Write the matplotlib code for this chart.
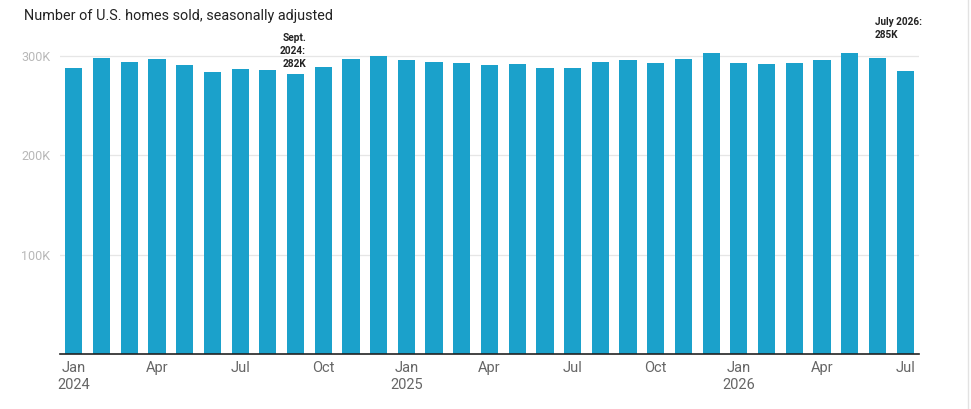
import matplotlib.pyplot as plt
from matplotlib.lines import Line2D

plt.rcParams['font.family'] = ['Roboto', 'DejaVu Sans']

# monthly home sales, Jan 2024 .. Jul 2026 (thousands)
months = ['Jan', 'Feb', 'Mar', 'Apr', 'May', 'Jun', 'Jul', 'Aug', 'Sep', 'Oct', 'Nov', 'Dec'] * 2 + \
         ['Jan', 'Feb', 'Mar', 'Apr', 'May', 'Jun', 'Jul']
years = [2024] * 12 + [2025] * 12 + [2026] * 7
sales_k = [288, 298, 294, 297, 291, 284, 287, 286, 282, 289, 297, 300,
           296, 294, 293, 291, 292, 288, 288, 294, 296, 293, 297, 303,
           293, 292, 293, 296, 303, 298, 285]

tick_months = ['Jan', 'Apr', 'Jul', 'Oct']
y_ticks = [100, 200, 300]
y_labels = ['100K', '200K', '300K']

BAR_COLOR = '#1ba1cb'


def main():
    fig = plt.figure(figsize=(9.71, 4.09), dpi=100)
    ax = fig.add_axes([60 / 971, 55 / 409, 859 / 971, 308 / 409])

    xs = list(range(len(sales_k)))
    ax.bar(xs, sales_k, width=0.62, color=BAR_COLOR, zorder=2)

    ax.set_xlim(-0.5, len(sales_k) - 0.5)
    ax.set_ylim(0, 310)

    # y axis: light grid, labels on the left
    ax.set_yticks(y_ticks)
    ax.set_yticklabels(y_labels)
    ax.tick_params(axis='y', length=0, pad=7, labelsize=9, labelcolor='#b8b8b8')
    ax.grid(axis='y', color='#e6e6e6', linewidth=0.9, zorder=0)

    # x axis: quarter labels, year under each Jan
    ticks, labels = [], []
    for i, (m, y) in enumerate(zip(months, years)):
        if m in tick_months:
            ticks.append(i)
            labels.append(f'{m}\n{y}' if m == 'Jan' else m)
    ax.set_xticks(ticks)
    ax.set_xticklabels(labels, linespacing=1.3)
    ax.tick_params(axis='x', length=0, pad=5, labelsize=10.5, labelcolor='#666666')

    for side in ['top', 'right', 'left']:
        ax.spines[side].set_visible(False)
    ax.spines['bottom'].set_color('#222222')
    ax.spines['bottom'].set_linewidth(1.2)
    ax.spines['bottom'].set_zorder(3)

    fig.text(24 / 971, 1 - 16 / 409, 'Number of U.S. homes sold, seasonally adjusted',
             fontsize=10.4, color='#222222', va='center', ha='left')

    # annotations
    sep = 8
    fig.text(306 / 971, 1 - 33 / 409, f'Sept.\n{years[sep]}:\n{sales_k[sep]}K',
             ha='right', va='top', fontsize=7.3, fontweight='bold',
             color='#222222', linespacing=1.35)
    last = len(sales_k) - 1
    fig.text(875 / 971, 1 - 17 / 409, f'July {years[last]}:\n{sales_k[last]}K',
             ha='left', va='top', fontsize=7.2, fontweight='bold',
             color='#222222', linespacing=1.35)

    # thin border at right edge
    fig.add_artist(Line2D([968 / 971, 968 / 971], [0, 1], color='#e2e2e2', linewidth=1))

    fig.savefig('out.png', dpi=100, facecolor='white')


if __name__ == '__main__':
    main()
